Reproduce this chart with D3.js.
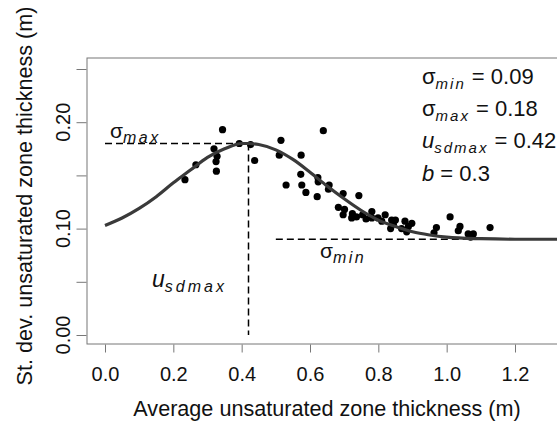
<!DOCTYPE html>
<html>
<head>
<meta charset="utf-8">
<script src="https://cdn.jsdelivr.net/npm/d3@7"></script>
<style>
  body { margin: 0; background: #fff; }
  svg text { font-family: "Liberation Sans", Arial, sans-serif; fill: #111; }
</style>
</head>
<body>
<svg id="chart" width="557" height="423"></svg>
<script>
// observed points (average thickness, st. dev.)
const obsU = [0.234, 0.266, 0.319, 0.328, 0.325, 0.326, 0.344, 0.393, 0.426, 0.438,
  0.515, 0.510, 0.574, 0.639, 0.573, 0.530, 0.576, 0.588, 0.621, 0.623,
  0.624, 0.656, 0.654, 0.697, 0.743, 0.683, 0.701, 0.697, 0.724, 0.736,
  0.722, 0.754, 0.781, 0.781, 0.764, 0.799, 0.820, 0.839, 0.850, 0.844,
  0.878, 0.836, 0.868, 0.883, 0.898, 0.888, 0.810, 1.010, 0.970, 0.963,
  1.039, 1.034, 1.063, 1.078, 1.070, 1.127];
const obsSd = [0.146, 0.160, 0.175, 0.168, 0.163, 0.154, 0.193, 0.180, 0.179, 0.164,
  0.183, 0.169, 0.169, 0.192, 0.151, 0.141, 0.141, 0.134, 0.130, 0.148,
  0.144, 0.141, 0.137, 0.133, 0.131, 0.120, 0.118, 0.113, 0.114, 0.111,
  0.110, 0.113, 0.116, 0.110, 0.109, 0.110, 0.113, 0.108, 0.108, 0.104,
  0.107, 0.100, 0.100, 0.097, 0.105, 0.102, 0.107, 0.111, 0.101, 0.096,
  0.102, 0.098, 0.095, 0.095, 0.092, 0.101];

// fitted curve
const curveU = [0, 0.05, 0.1, 0.15, 0.2, 0.25, 0.3, 0.35, 0.4, 0.42, 0.45, 0.5, 0.55, 0.6,
  0.65, 0.7, 0.75, 0.8, 0.85, 0.9, 0.95, 1.0, 1.1, 1.2, 1.3, 1.4];
const curveSd = [0.103, 0.110, 0.119, 0.130, 0.143, 0.155, 0.167, 0.175, 0.180, 0.180, 0.179,
  0.174, 0.165, 0.153, 0.140, 0.128, 0.117, 0.108, 0.102, 0.097, 0.094, 0.092, 0.0905,
  0.090, 0.090, 0.090];

// reference lines
const sdMin = 0.09, sdMax = 0.18, uSdMax = 0.42;
const minLineStart = 0.5;

const xTicks = [0, 0.2, 0.4, 0.6, 0.8, 1.0, 1.2];
const yTicks = [0, 0.05, 0.10, 0.15, 0.20, 0.25];
const yTickLabels = ["0.00", "", "0.10", "", "0.20", ""];

const xTitle = "Average unsaturated zone thickness (m)";
const yTitle = "St. dev. unsaturated zone thickness (m)";

const svg = d3.select("#chart");

const x = d3.scaleLinear().domain([0, 1.2]).range([105, 515]);
const y = d3.scaleLinear().domain([0, 0.25]).range([335, 69]);

const box = { left: 87, top: 58, right: 620, bottom: 344 };

// plot frame
svg.append("rect")
  .attr("x", box.left).attr("y", box.top)
  .attr("width", box.right - box.left).attr("height", box.bottom - box.top)
  .attr("fill", "none").attr("stroke", "#777").attr("stroke-width", 1);

// x axis
const xAxis = svg.append("g")
  .attr("transform", "translate(0," + (box.bottom + 0.5) + ")")
  .call(d3.axisBottom(x).tickValues(xTicks).tickFormat(d3.format(".1f"))
    .tickSize(8).tickPadding(14));
xAxis.select(".domain").remove();
xAxis.selectAll("line").attr("stroke", "#777");
xAxis.selectAll("text").attr("font-size", 20).attr("fill", "#111")
  .style("font-family", "'Liberation Sans', Arial, sans-serif");

// y axis ticks
const yAxis = svg.append("g")
  .attr("transform", "translate(" + (box.left - 0.5) + ",0)")
  .call(d3.axisLeft(y).tickValues(yTicks).tickFormat("").tickSize(10));
yAxis.select(".domain").remove();
yAxis.selectAll("line").attr("stroke", "#777");

// rotated y tick labels
svg.append("g").selectAll("text")
  .data(yTicks)
  .join("text")
  .attr("transform", d => "translate(70," + y(d) + ") rotate(-90)")
  .attr("text-anchor", "middle")
  .attr("font-size", 20)
  .text((d, i) => yTickLabels[i]);

// axis titles
svg.append("text")
  .attr("x", 327).attr("y", 416)
  .attr("text-anchor", "middle").attr("font-size", 21.6)
  .text(xTitle);
svg.append("text")
  .attr("transform", "translate(32,196) rotate(-90)")
  .attr("text-anchor", "middle").attr("font-size", 21.6)
  .text(yTitle);

const plot = svg.append("g");

// dashed reference lines
const dash = "7,4";
plot.append("line")
  .attr("x1", x(0)).attr("x2", x(uSdMax))
  .attr("y1", y(sdMax)).attr("y2", y(sdMax))
  .attr("stroke", "#000").attr("stroke-width", 1.5).attr("stroke-dasharray", dash);
plot.append("line")
  .attr("x1", x(uSdMax)).attr("x2", x(uSdMax))
  .attr("y1", y(sdMax)).attr("y2", y(0))
  .attr("stroke", "#000").attr("stroke-width", 1.5).attr("stroke-dasharray", dash);
plot.append("line")
  .attr("x1", x(minLineStart)).attr("x2", 560)
  .attr("y1", y(sdMin)).attr("y2", y(sdMin))
  .attr("stroke", "#000").attr("stroke-width", 1.5).attr("stroke-dasharray", dash);

// points
plot.selectAll("circle")
  .data(obsU.map((u, i) => [u, obsSd[i]]))
  .join("circle")
  .attr("cx", d => x(d[0])).attr("cy", d => y(d[1]))
  .attr("r", 3.6).attr("fill", "#000");

// fitted curve
const line = d3.line()
  .x(d => x(d[0])).y(d => y(d[1]))
  .curve(d3.curveMonotoneX);
plot.append("path")
  .datum(curveU.map((u, i) => [u, curveSd[i]]))
  .attr("d", line)
  .attr("fill", "none").attr("stroke", "#3a3a3a").attr("stroke-width", 3.2);

// label with subscript; parts: [text, isSub, italic]
function subLabel(px, py, parts, size, subSize, spacing) {
  const t = svg.append("text").attr("x", px).attr("y", py).attr("font-size", size);
  let down = false;
  parts.forEach(p => {
    const ts = t.append("tspan").text(p[0]);
    if (p[1]) {
      ts.attr("font-size", subSize).attr("font-style", "italic")
        .attr("letter-spacing", spacing).attr("dy", down ? 0 : 5);
      down = true;
    } else {
      if (down) { ts.attr("dy", -5); down = false; }
      if (p[2]) ts.attr("font-style", "italic");
    }
  });
  return t;
}

subLabel(110, 138, [["σ"], ["max", true]], 21, 16, 2.5);
subLabel(320, 258, [["σ"], ["min", true]], 21, 16, 2.5);
subLabel(152, 287, [["u", false, true], ["sdmax", true]], 23, 16, 3);

// parameter block
subLabel(422, 84, [["σ"], ["min", true], [" = 0.09"]], 22, 15, 2);
subLabel(422, 116, [["σ"], ["max", true], [" = 0.18"]], 22, 15, 2);
subLabel(422, 148, [["u", false, true], ["sdmax", true], [" = 0.42"]], 22, 15, 2);
subLabel(422, 181, [["b", false, true], [" = 0.3"]], 22, 15, 2);
</script>
</body>
</html>
